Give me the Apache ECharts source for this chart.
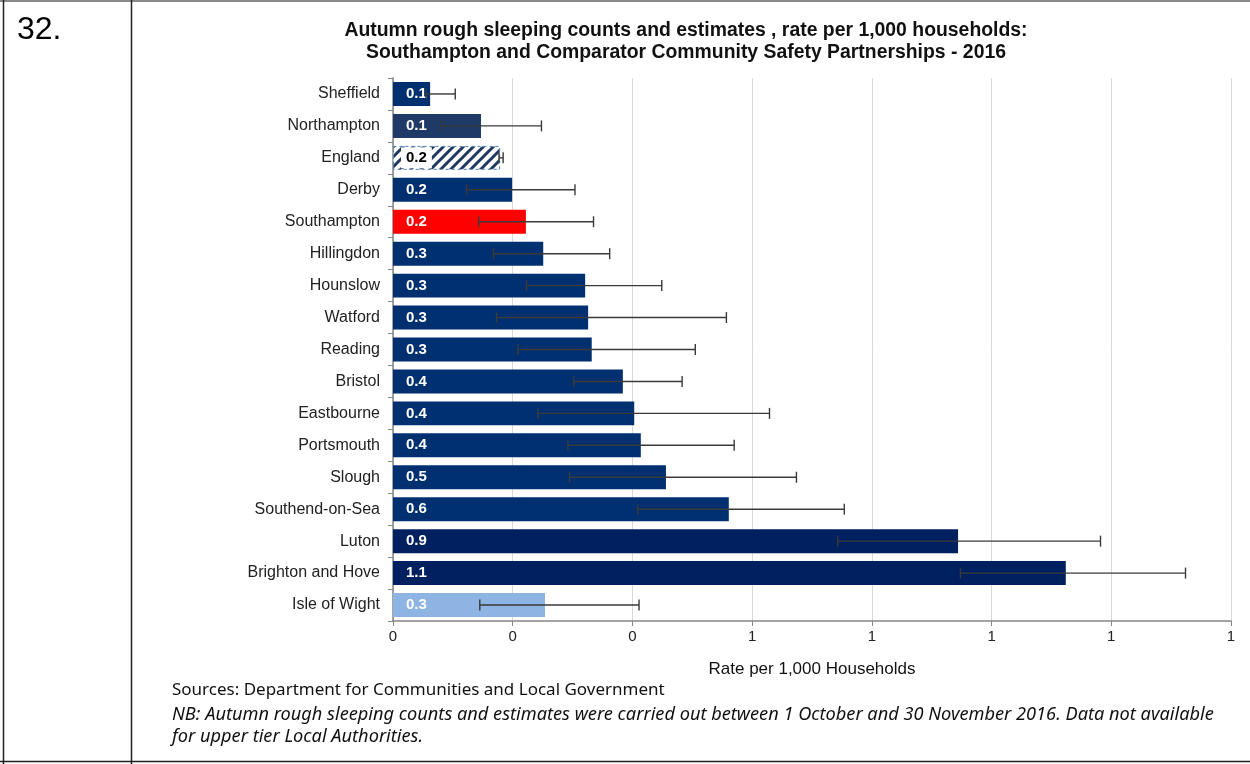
<!DOCTYPE html>
<html>
<head>
<meta charset="utf-8">
<script src="https://cdn.jsdelivr.net/npm/echarts@6/dist/echarts.min.js"></script>
<style>
html,body{margin:0;padding:0;background:#fff;}
#chart{width:1250px;height:764px;}
</style>
</head>
<body>
<div id="chart"></div>
<script>
// ---- data ----
const categories = ['Sheffield','Northampton','England','Derby','Southampton','Hillingdon','Hounslow','Watford','Reading','Bristol','Eastbourne','Portsmouth','Slough','Southend-on-Sea','Luton','Brighton and Hove','Isle of Wight'];
const rates      = [0.062,0.147,0.179,0.199,0.222,0.251,0.321,0.326,0.332,0.384,0.403,0.414,0.456,0.561,0.944,1.124,0.254];
const lowerCI    = [0.055,0.081,0.177,0.123,0.143,0.168,0.223,0.173,0.209,0.302,0.242,0.292,0.295,0.409,0.743,0.948,0.145];
const upperCI    = [0.104,0.248,0.184,0.304,0.335,0.362,0.449,0.557,0.505,0.483,0.629,0.570,0.674,0.754,1.182,1.324,0.411];
const xTicks      = [0,0.2,0.4,0.6,0.8,1.0,1.2,1.4];
const xTickLabels = ['0','0','0','1','1','1','1','1'];

const titleLines = ['Autumn rough sleeping counts and estimates , rate per 1,000 households:',
                    'Southampton and Comparator Community Safety Partnerships - 2016'];
const xAxisName = 'Rate per 1,000 Households';
const sourceText = 'Sources: Department for Communities and Local Government';
const noteLines = ['NB: Autumn rough sleeping counts and estimates were carried out between 1 October and 30 November 2016. Data not available',
                   'for upper tier Local Authorities.'];
const rowNumber = '32.';

// ---- styles ----
const NAVY = '#003070';
const colorFor = {
  'Northampton': '#1f3a66',
  'Southampton': '#ff0000',
  'Luton': '#002060',
  'Brighton and Hove': '#002060',
  'Isle of Wight': '#8db4e2'
};

function hatch() {
  const c = document.createElement('canvas');
  c.width = 10; c.height = 10;
  const g = c.getContext('2d');
  g.fillStyle = '#ffffff'; g.fillRect(0,0,10,10);
  g.strokeStyle = '#1f3864'; g.lineWidth = 3;
  g.beginPath();
  g.moveTo(-2, 12); g.lineTo(12, -2);
  g.moveTo(-7, 7); g.lineTo(7, -7);
  g.moveTo(3, 17); g.lineTo(17, 3);
  g.stroke();
  return c;
}
const hatchCanvas = hatch();

const barData = rates.map((v, i) => {
  const name = categories[i];
  if (name === 'England') {
    return {
      value: v,
      itemStyle: { color: { image: hatchCanvas, repeat: 'repeat' }, borderColor: '#4f81bd', borderWidth: 1, borderType: [3,3] },
      label: { color: '#000', backgroundColor: '#fff', padding: [3,5,3,5], offset: [-5, 0] }
    };
  }
  return { value: v, itemStyle: { color: colorFor[name] || NAVY } };
});

const errData = categories.map((c, i) => [lowerCI[i], upperCI[i], i]);

const chart = echarts.init(document.getElementById('chart'), null, { renderer: 'canvas' });

const FONT = 'Arial, "Liberation Sans", sans-serif';
const NOTEFONT = '"Noto Sans", "Open Sans", sans-serif';

chart.setOption({
  animation: false,
  backgroundColor: '#fff',
  grid: { left: 393, right: 19, top: 78, bottom: 143, containLabel: false },
  xAxis: {
    type: 'value', min: 0, max: 1.4, interval: 0.2,
    name: xAxisName, nameLocation: 'middle', nameGap: 40,
    nameTextStyle: { fontFamily: FONT, fontSize: 17, color: '#111' },
    axisLine: { show: true, lineStyle: { color: '#868686', width: 1.5 } },
    axisTick: { show: true, length: 5, lineStyle: { color: '#868686' } },
    axisLabel: { fontFamily: FONT, fontSize: 15, color: '#222', margin: 8,
      formatter: (v) => { const k = xTicks.findIndex(t => Math.abs(t - v) < 1e-6); return k >= 0 ? xTickLabels[k] : ''; } },
    splitLine: { show: true, lineStyle: { color: '#d9d9d9', width: 1 } }
  },
  yAxis: {
    type: 'category', data: categories, inverse: true,
    axisLine: { show: true, lineStyle: { color: '#868686', width: 1.5 } },
    axisTick: { show: true, length: 5, alignWithLabel: false, lineStyle: { color: '#868686' } },
    axisLabel: { fontFamily: FONT, fontSize: 16, color: '#222', margin: 13 },
    splitLine: { show: false }
  },
  title: [{
    text: titleLines.join('\n'),
    left: 681, top: 15, textAlign: 'center',
    textStyle: { fontFamily: FONT, fontSize: 19.4, fontWeight: 'bold', color: '#111', lineHeight: 22 }
  }],
  graphic: [
    { type: 'rect', shape: { x: 0, y: 0, width: 1250, height: 2 }, style: { fill: '#8a8a8a' } },
    { type: 'line', shape: { x1: 3.5, y1: 0, x2: 3.5, y2: 764 }, style: { stroke: '#222', lineWidth: 1.5 } },
    { type: 'line', shape: { x1: 131.5, y1: 0, x2: 131.5, y2: 764 }, style: { stroke: '#222', lineWidth: 1.5 } },
    { type: 'line', shape: { x1: 0, y1: 761.5, x2: 1250, y2: 761.5 }, style: { stroke: '#222', lineWidth: 1.5 } },
    { type: 'text', left: 17, top: 14, style: { text: rowNumber, fontFamily: FONT, fontSize: 32, fill: '#000' } },
    { type: 'text', left: 172, top: 682, style: { text: sourceText, fontFamily: NOTEFONT, fontSize: 17, fill: '#111' } },
    { type: 'text', left: 172, top: 706, style: { text: noteLines[0], fontFamily: NOTEFONT, fontSize: 18.2, fontStyle: 'italic', fill: '#111' } },
    { type: 'text', left: 172, top: 728, style: { text: noteLines[1], fontFamily: NOTEFONT, fontSize: 18.2, fontStyle: 'italic', fill: '#111' } }
  ],
  series: [
    {
      type: 'bar', data: barData, barCategoryGap: '25%',
      label: { show: true, position: 'insideLeft', distance: 13, formatter: (p) => rates[p.dataIndex].toFixed(1),
               fontFamily: FONT, fontSize: 15, fontWeight: 'bold', color: '#fff' },
      z: 2
    },
    {
      type: 'custom', data: errData, z: 5,
      encode: { x: [0, 1], y: 2 },
      renderItem: (params, api) => {
        const lo = api.coord([api.value(0), api.value(2)]);
        const hi = api.coord([api.value(1), api.value(2)]);
        const h = 5.5;
        const st = { stroke: '#3a3a3a', lineWidth: 1.4 };
        return { type: 'group', children: [
          { type: 'line', shape: { x1: lo[0], y1: lo[1], x2: hi[0], y2: hi[1] }, style: st },
          { type: 'line', shape: { x1: lo[0], y1: lo[1]-h, x2: lo[0], y2: lo[1]+h }, style: st },
          { type: 'line', shape: { x1: hi[0], y1: hi[1]-h, x2: hi[0], y2: hi[1]+h }, style: st }
        ]};
      }
    }
  ]
});
</script>
</body>
</html>
